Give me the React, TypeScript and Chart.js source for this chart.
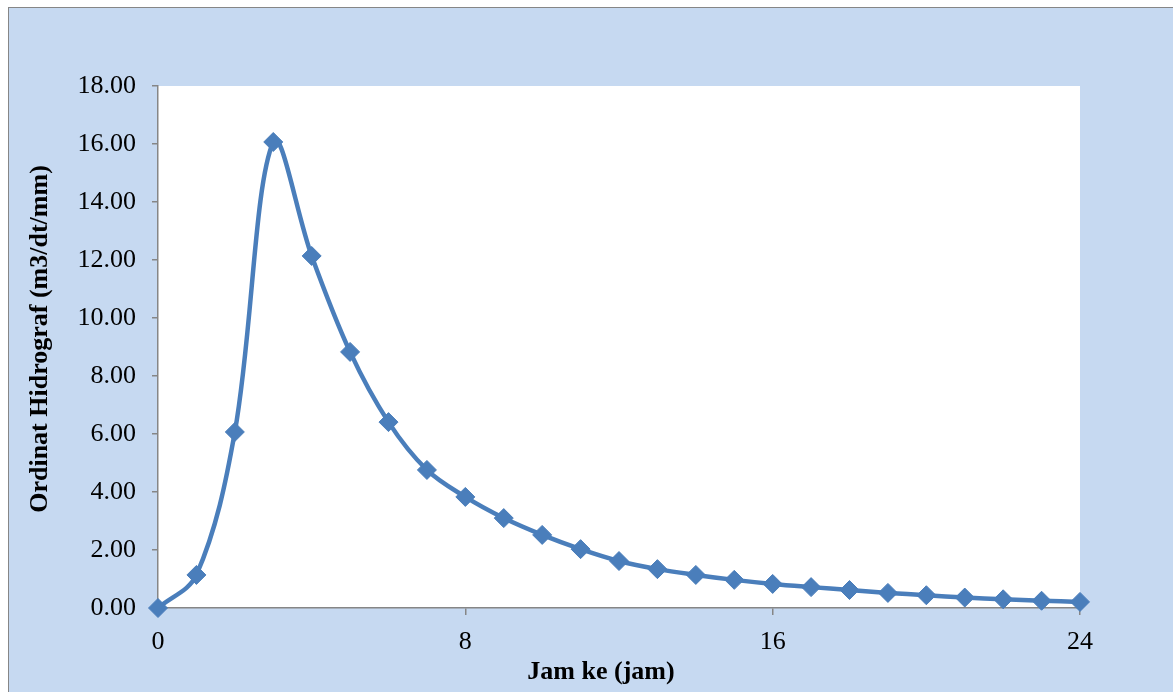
import React, { useEffect, useRef } from "react";
import { Chart, registerables } from "chart.js";

Chart.register(...registerables);

const hours = [0, 1, 2, 3, 4, 5, 6, 7, 8, 9, 10, 11, 12, 13, 14, 15, 16, 17, 18, 19, 20, 21, 22, 23, 24];
const ordinates = [
  0.0, 1.14, 6.07, 16.07, 12.14, 8.83, 6.41, 4.76, 3.83, 3.1, 2.52, 2.03, 1.62,
  1.34, 1.14, 0.97, 0.83, 0.72, 0.62, 0.52, 0.44, 0.36, 0.3, 0.25, 0.21,
];
const xTickValues = [0, 8, 16, 24];
const yTitle = "Ordinat Hidrograf (m3/dt/mm)";
const xTitle = "Jam ke (jam)";

const FONT = "'Liberation Serif', 'Times New Roman', serif";
const BLUE = "#4A7EBB";
const AXIS = "#868686";

const titlePlugin = {
  id: "axisTitles",
  afterDraw(chart: any) {
    const ctx = chart.ctx;
    ctx.save();
    ctx.fillStyle = "#000";
    ctx.font = `bold 26px ${FONT}`;
    ctx.textAlign = "center";
    ctx.textBaseline = "middle";
    ctx.fillText(xTitle, 592, 664);
    ctx.translate(31, 331);
    ctx.rotate(-Math.PI / 2);
    ctx.fillText(yTitle, 0, 0);
    ctx.restore();
  },
};

export default function App() {
  const ref = useRef<HTMLCanvasElement>(null);
  useEffect(() => {
    if (!ref.current) return;
    const chart = new Chart(ref.current, {
      type: "line",
      data: {
        datasets: [
          {
            data: hours.map((h, i) => ({ x: h, y: ordinates[i] })),
            borderColor: BLUE,
            backgroundColor: BLUE,
            borderWidth: 4.5,
            tension: 0.35,
            pointStyle: "rectRot",
            pointRadius: 9.5,
            pointBorderWidth: 1,
            pointBackgroundColor: BLUE,
            pointBorderColor: BLUE,
            clip: false as any,
          },
        ],
      },
      options: {
        animation: false,
        responsive: false,
        maintainAspectRatio: false,
        layout: { padding: { top: 78, right: 93, left: 0, bottom: 0 }, autoPadding: false } as any,
        plugins: { legend: { display: false }, tooltip: { enabled: false } },
        scales: {
          x: {
            type: "linear",
            min: 0,
            max: 24,
            afterBuildTicks: (s: any) => {
              s.ticks = xTickValues.map((v) => ({ value: v }));
            },
            afterFit: (s: any) => {
              s.height = 84;
            },
            grid: { drawOnChartArea: false, tickLength: 7, color: AXIS, lineWidth: 1.5 },
            border: { color: AXIS, width: 1.5 },
            ticks: { color: "#000", font: { family: FONT, size: 26 }, padding: 12, maxRotation: 0 },
          },
          y: {
            min: 0,
            max: 18,
            afterFit: (s: any) => {
              s.width = 149;
            },
            grid: { drawOnChartArea: false, tickLength: 6, color: AXIS, lineWidth: 1.5 },
            border: { color: AXIS, width: 1.5 },
            ticks: {
              stepSize: 2,
              color: "#000",
              font: { family: FONT, size: 26 },
              padding: 16,
              callback: (v: any) => Number(v).toFixed(2),
            },
          },
        },
      },
      plugins: [
        {
          id: "bg",
          beforeDraw(c: any) {
            const { ctx, chartArea } = c;
            ctx.save();
            ctx.fillStyle = "#ffffff";
            ctx.fillRect(chartArea.left, chartArea.top, chartArea.right - chartArea.left, chartArea.bottom - chartArea.top);
            ctx.restore();
          },
        },
        titlePlugin,
      ],
    });
    return () => chart.destroy();
  }, []);

  return (
    <div
      style={{
        position: "absolute",
        left: 8,
        top: 7,
        width: 1164,
        height: 684,
        background: "#C6D9F1",
        borderLeft: `1px solid ${AXIS}`,
        borderTop: `1px solid ${AXIS}`,
      }}
    >
      <canvas ref={ref} width={1164} height={684} style={{ display: "block" }} />
    </div>
  );
}
